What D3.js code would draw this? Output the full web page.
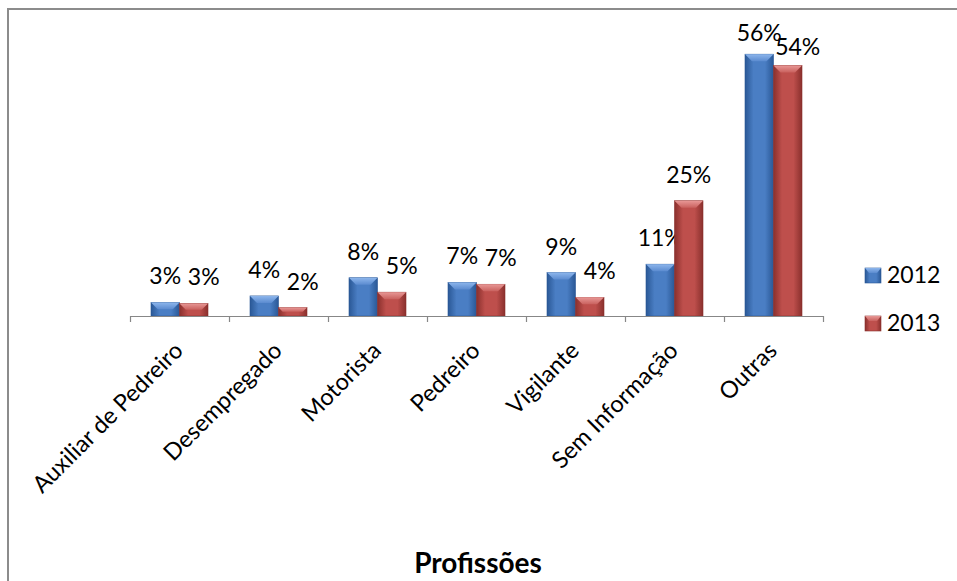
<!DOCTYPE html>
<html>
<head>
<meta charset="utf-8">
<script src="https://cdn.jsdelivr.net/npm/d3@7"></script>
<style>
  html, body { margin: 0; padding: 0; background: #fff; }
  svg { display: block; font-family: Lato, "Open Sans", sans-serif; }
</style>
</head>
<body>
<svg id="chart" width="957" height="581"></svg>
<script>
// ---- data ----
const categories = ["Auxiliar de Pedreiro", "Desempregado", "Motorista", "Pedreiro", "Vigilante", "Sem Informação", "Outras"];
const seriesNames = ["2012", "2013"];
const values2012 = [0.029, 0.043, 0.082, 0.072, 0.093, 0.111, 0.561];
const values2013 = [0.027, 0.018, 0.051, 0.068, 0.040, 0.247, 0.537];
const axisTitle = "Profissões";

const seriesValues = { "2012": values2012, "2013": values2013 };
const palette = {
  "2012": { mid: "#4A7EC4", edge: "#2A5896", top: "#8DB6EC", topEdge: "#5B8BD0" },
  "2013": { mid: "#BE4F4C", edge: "#8A302D", top: "#E89896", topEdge: "#C9615E" }
};

const svg = d3.select("#chart");
const defs = svg.append("defs");

// frame
svg.append("rect")
  .attr("x", 8).attr("y", 9).attr("width", 1000).attr("height", 700)
  .attr("fill", "#fff").attr("stroke", "#8c8c8c").attr("stroke-width", 2);

// gradients
seriesNames.forEach(s => {
  const g = defs.append("linearGradient").attr("id", "grad" + s)
    .attr("x1", "0%").attr("x2", "100%").attr("y1", "0%").attr("y2", "0%");
  g.append("stop").attr("offset", "0%").attr("stop-color", palette[s].edge);
  g.append("stop").attr("offset", "30%").attr("stop-color", palette[s].mid);
  g.append("stop").attr("offset", "70%").attr("stop-color", palette[s].mid);
  g.append("stop").attr("offset", "100%").attr("stop-color", palette[s].edge);
  const t = defs.append("linearGradient").attr("id", "top" + s)
    .attr("x1", "0%").attr("x2", "0%").attr("y1", "0%").attr("y2", "100%");
  t.append("stop").attr("offset", "0%").attr("stop-color", palette[s].top);
  t.append("stop").attr("offset", "100%").attr("stop-color", palette[s].topEdge);
});

// scales
const x0 = d3.scaleBand().domain(categories).range([130, 823]).paddingInner(0).paddingOuter(0);
const x1 = d3.scaleBand().domain(seriesNames).range([0, x0.bandwidth()]).paddingInner(0).paddingOuter(0.737);
const y = d3.scaleLinear().domain([0, 0.6]).range([316, 36]);
const bevel = 7;

// bars
const groups = svg.append("g").selectAll("g")
  .data(categories).join("g")
  .attr("transform", d => `translate(${x0(d)},0)`);

const barData = (c, i) => seriesNames.map((s, k) => ({ s, k, v: seriesValues[s][i], c, i }));

const bars = groups.selectAll("g.bar")
  .data((c, i) => barData(c, i)).join("g").attr("class", "bar");

bars.append("rect")
  .attr("x", d => x1(d.s))
  .attr("y", d => y(d.v))
  .attr("width", x1.bandwidth())
  .attr("height", d => y(0) - y(d.v))
  .attr("fill", d => `url(#grad${d.s})`)
  .attr("stroke", d => palette[d.s].edge)
  .attr("stroke-width", 0.6);

bars.append("path")
  .attr("d", d => {
    const xl = x1(d.s), xr = xl + x1.bandwidth(), yt = y(d.v);
    const h = Math.min(bevel, (y(0) - yt) / 2);
    return `M${xl},${yt}L${xr},${yt}L${xr - h},${yt + h}L${xl + h},${yt + h}Z`;
  })
  .attr("fill", d => `url(#top${d.s})`);

// data labels (second series nudged right when close to the first series' label)
const fmt = d3.format(".0%");
const labelGap = 18;
const labelY = v => Math.max(41, y(v) - labelGap);
bars.append("text")
  .attr("x", d => {
    let cx = x1(d.s) + x1.bandwidth() / 2;
    if (d.k === 1) {
      const other = seriesValues[seriesNames[0]][d.i];
      if (Math.abs(labelY(other) - labelY(d.v)) < 30) cx += 10;
    }
    return cx;
  })
  .attr("y", d => {
    let ly = labelY(d.v);
    if (d.k === 1 && ly < 60) ly += 8;
    return ly;
  })
  .attr("text-anchor", "middle")
  .attr("font-size", 23)
  .attr("fill", "#000")
  .text(d => fmt(d.v));

// axis with ticks at category boundaries
const xb = d3.scaleLinear().domain([0, categories.length]).range(x0.range());
svg.append("g")
  .attr("transform", `translate(0,${y(0)})`)
  .call(d3.axisBottom(xb).tickValues(d3.range(categories.length + 1)).tickFormat("").tickSizeInner(6).tickSizeOuter(0))
  .call(g => g.selectAll("path,line").attr("stroke", "#878787").attr("stroke-width", 1.2));

// category labels
svg.append("g").selectAll("text")
  .data(categories).join("text")
  .attr("transform", d => `translate(${x0(d) + x0.bandwidth() / 2 + 5},352) rotate(-45)`)
  .attr("text-anchor", "end")
  .attr("font-size", 23.5)
  .attr("fill", "#000")
  .text(d => d);

// axis title
svg.append("text")
  .attr("x", 478).attr("y", 573)
  .attr("text-anchor", "middle")
  .attr("font-size", 28)
  .attr("font-weight", "bold")
  .attr("fill", "#000")
  .text(axisTitle);

// legend
const legend = svg.append("g").selectAll("g")
  .data(seriesNames).join("g")
  .attr("transform", (d, i) => `translate(865,${266 + i * 48})`);
legend.append("rect")
  .attr("x", 0).attr("y", 2).attr("width", 16).attr("height", 15)
  .attr("fill", d => `url(#grad${d})`)
  .attr("stroke", d => palette[d].edge).attr("stroke-width", 0.6);
legend.append("path")
  .attr("d", "M0,2L16,2L12,7L4,7Z")
  .attr("fill", d => `url(#top${d})`);
legend.append("text")
  .attr("x", 22).attr("y", 17)
  .attr("font-size", 23)
  .attr("fill", "#000")
  .text(d => d);
</script>
</body>
</html>
